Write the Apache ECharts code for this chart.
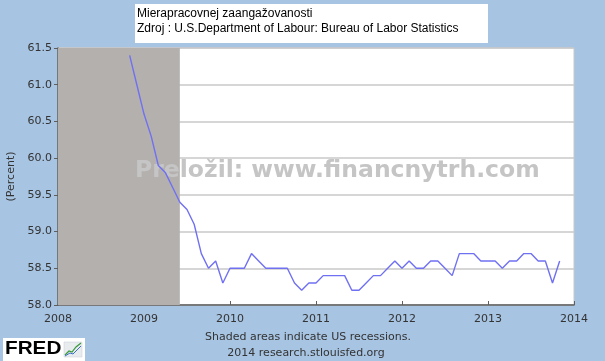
<!DOCTYPE html>
<html>
<head>
<meta charset="utf-8">
<script src="https://cdn.jsdelivr.net/npm/echarts@6/dist/echarts.min.js"></script>
<style>html,body{margin:0;padding:0;background:#a7c4e2;}#c{width:605px;height:361px;}</style>
</head>
<body>
<div id="c"></div>
<script>
// ---- data ----
var months = [
 '2008-11','2008-12',
 '2009-01','2009-02','2009-03','2009-04','2009-05','2009-06','2009-07','2009-08','2009-09','2009-10','2009-11','2009-12',
 '2010-01','2010-02','2010-03','2010-04','2010-05','2010-06','2010-07','2010-08','2010-09','2010-10','2010-11','2010-12',
 '2011-01','2011-02','2011-03','2011-04','2011-05','2011-06','2011-07','2011-08','2011-09','2011-10','2011-11','2011-12',
 '2012-01','2012-02','2012-03','2012-04','2012-05','2012-06','2012-07','2012-08','2012-09','2012-10','2012-11','2012-12',
 '2013-01','2013-02','2013-03','2013-04','2013-05','2013-06','2013-07','2013-08','2013-09','2013-10','2013-11'
];
var values = [
 61.4, 61.0,
 60.6, 60.3, 59.9, 59.8, 59.6, 59.4, 59.3, 59.1, 58.7, 58.5, 58.6, 58.3,
 58.5, 58.5, 58.5, 58.7, 58.6, 58.5, 58.5, 58.5, 58.5, 58.3, 58.2, 58.3,
 58.3, 58.4, 58.4, 58.4, 58.4, 58.2, 58.2, 58.3, 58.4, 58.4, 58.5, 58.6,
 58.5, 58.6, 58.5, 58.5, 58.6, 58.6, 58.5, 58.4, 58.7, 58.7, 58.7, 58.6,
 58.6, 58.6, 58.5, 58.6, 58.6, 58.7, 58.7, 58.6, 58.6, 58.3, 58.6
];
var recessionStart = '2007-12';
var recessionEnd = '2009-06';
var xTickYears = [2008, 2009, 2010, 2011, 2012, 2013, 2014];
var yTicks = [58.0, 58.5, 59.0, 59.5, 60.0, 60.5, 61.0, 61.5];
var titleLines = ['Mierapracovnej zaangažovanosti', 'Zdroj : U.S.Department of Labour: Bureau of Labor Statistics'];
var watermark = 'Preložil: www.financnytrh.com';
var footLines = ['Shaded areas indicate US recessions.', '2014 research.stlouisfed.org'];
var yAxisName = '(Percent)';

function toYear(s) { var p = s.split('-'); return +p[0] + (+p[1] - 1) / 12; }
var seriesData = months.map(function (m, i) { return [toYear(m), values[i]]; });
var xMin = xTickYears[0], xMax = xTickYears[xTickYears.length - 1];
var recS = Math.max(toYear(recessionStart), xMin), recE = toYear(recessionEnd);

var chart = echarts.init(document.getElementById('c'), null, {renderer: 'canvas'});
var labelFont = 'DejaVu Sans';
chart.setOption({
  backgroundColor: '#a7c4e2',
  animation: false,
  grid: {left: 58, right: 31, top: 48, bottom: 56, containLabel: false, outerBoundsMode: 'none', show: true, backgroundColor: '#ffffff', borderColor: '#c9c9c9', borderWidth: 1},
  xAxis: {
    type: 'value', min: xMin, max: xMax, interval: 1,
    axisLine: {show: true, onZero: false, lineStyle: {color: '#5e5e5e', width: 1.5}},
    axisTick: {show: true, inside: true, length: 4, lineStyle: {color: '#5e5e5e', width: 1}},
    axisLabel: {color: '#333', fontFamily: labelFont, fontSize: 11, margin: 9, formatter: function (v) { return String(Math.round(v)); }},
    splitLine: {show: false}
  },
  yAxis: {
    type: 'value', min: yTicks[0], max: yTicks[yTicks.length - 1], interval: 0.5,
    name: yAxisName, nameLocation: 'middle', nameGap: 40, nameRotate: 90,
    nameTextStyle: {color: '#333', fontFamily: labelFont, fontSize: 11},
    axisLine: {show: true, lineStyle: {color: '#5e5e5e', width: 1.5}},
    axisTick: {show: true, inside: false, length: 4, lineStyle: {color: '#5e5e5e', width: 1}},
    axisLabel: {color: '#333', fontFamily: labelFont, fontSize: 11, margin: 6, formatter: function (v) { return v.toFixed(1); }},
    splitLine: {show: true, lineStyle: {color: '#c8c8c8', width: 1.5}}
  },
  series: [
    {
      type: 'line', data: [], z: 1, silent: true,
      markArea: {silent: true, itemStyle: {color: '#b4b0ae', opacity: 1}, data: [[{xAxis: recS}, {xAxis: recE}]]}
    },
    {
      type: 'line', data: seriesData, z: 5, showSymbol: false, symbol: 'none',
      lineStyle: {color: '#7070f2', width: 1.4}
    }
  ],
  graphic: [
    {type: 'rect', z: 10, shape: {x: 135, y: 4, width: 353, height: 39}, style: {fill: '#ffffff'}},
    {type: 'text', z: 11, x: 137, y: 13.5, style: {text: titleLines[0], fill: '#000', font: '12px "Liberation Sans"', verticalAlign: 'middle'}},
    {type: 'text', z: 11, x: 137, y: 28.5, style: {text: titleLines[1], fill: '#000', font: '12px "Liberation Sans"', verticalAlign: 'middle'}},
    {type: 'text', z: 3, x: 135, y: 171, style: {text: watermark, fill: '#c5c5c5', font: 'bold 23.5px "DejaVu Sans"', verticalAlign: 'middle'}},
    {type: 'text', z: 11, x: 308, y: 337, style: {text: footLines[0], fill: '#333', font: '11px "DejaVu Sans"', align: 'center', verticalAlign: 'middle'}},
    {type: 'text', z: 11, x: 306, y: 353, style: {text: footLines[1], fill: '#333', font: '11px "DejaVu Sans"', align: 'center', verticalAlign: 'middle'}},
    {type: 'rect', z: 10, shape: {x: 3, y: 338, width: 82, height: 23}, style: {fill: '#ffffff'}},
    {type: 'text', z: 11, x: 5, y: 349, scaleX: 1.15, style: {text: 'FRED', fill: '#000', font: 'bold 18px "Liberation Sans"', verticalAlign: 'middle'}},
    {type: 'rect', z: 11, shape: {x: 64, y: 342, width: 18, height: 15}, style: {fill: '#e8ecef', stroke: '#c8ccd0', lineWidth: 0.5}},
    {type: 'polyline', z: 12, shape: {points: [[65, 355], [69, 351], [72, 352], [76, 347], [81, 343]]}, style: {stroke: '#3a9a3a', lineWidth: 1.2, fill: null}},
    {type: 'polyline', z: 12, shape: {points: [[65, 356], [70, 353], [73, 354], [77, 350], [81, 346]]}, style: {stroke: '#3a6fc4', lineWidth: 1, fill: null}}
  ]
});
</script>
</body>
</html>
